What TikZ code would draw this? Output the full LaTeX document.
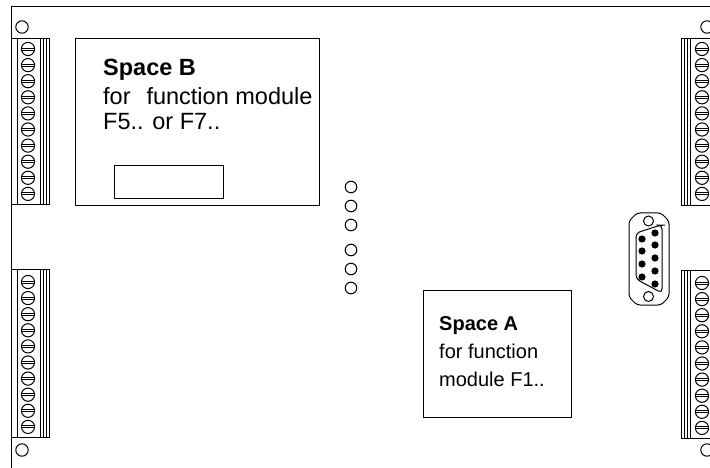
\documentclass[tikz,border=0pt]{standalone}
\usepackage{fontspec}
\setmainfont{Liberation Sans}
\tikzset{
  ln/.style={draw=black,line width=1pt},
  thin ln/.style={draw=black,line width=.8pt},
  hole/.style={ln,fill=white},
  label txt/.style={anchor=base west,inner sep=0pt},
  big txt/.style={label txt,font=\fontsize{23.5}{25}\selectfont},
  small txt/.style={label txt,font=\fontsize{20}{22}\selectfont},
}
\newcommand{\screw}[2]{%
  \draw[ln,fill=white] (#1,#2) circle (6.6);
  \draw[draw=black,line width=.9pt] (#1-6.4,#2-1) -- (#1+6.4,#2-1);
  \draw[draw=black,line width=.9pt] (#1-6.4,#2+1) -- (#1+6.4,#2+1);
}
\begin{document}
\begin{tikzpicture}[x=1pt,y=-1pt]
\useasboundingbox (0,0) rectangle (710,468);
\begin{scope}
\clip (0,0) rectangle (710,468);
% frame
\draw[ln] (710,7) -- (11,7) -- (11,468);
% left blocks
\foreach \t/\b/\o in {39/205/10,269/437/13}{
  \draw[ln] (11,\t) -- (49,\t) -- (49,\b) -- (11,\b);
  \draw[ln] (17,\t) -- (17,\b);
  \draw[thin ln] (40,\t) -- (40,\b);
  \draw[thin ln] (43,\t) -- (43,\b);
  \draw[thin ln] (46,\t) -- (46,\b);
  \foreach \i in {0,...,9}{
    \pgfmathsetmacro{\yy}{\t+\o+\i*16.1}
    \screw{28}{\yy}
  }
}
% right blocks
\foreach \t/\b/\o in {39/206/10,270/438/13}{
  \draw[ln] (710,\t) -- (681,\t) -- (681,\b) -- (710,\b);
  \draw[thin ln] (684,\t) -- (684,\b);
  \draw[thin ln] (687,\t) -- (687,\b);
  \draw[thin ln] (690,\t) -- (690,\b);
  \foreach \i in {0,...,9}{
    \pgfmathsetmacro{\yy}{\t+\o+\i*16.1}
    \screw{702}{\yy}
  }
}
% corner holes
\foreach \x/\y in {22/27,707/27,22/450,707/450}{
  \draw[hole] (\x,\y) circle (6.2);
}
\end{scope}
% LEDs
\foreach \y in {187,206,225,250,269,288}{
  \draw[hole] (351,\y) circle (5.8);
}
% Space B
\draw[ln] (75,39) rectangle (319,206);
\draw[ln] (114,166) rectangle (223,199);
\node[big txt] (bhead) at (103,76) {\textbf{Space B}};
\node[big txt] (bone) at (103,105) {for\hspace{.4em} function module};
\node[big txt] (btwo) at (103,130) {F5.. or F7..};
% Space A
\draw[ln] (423,290) rectangle (571,417);
\node[small txt] (ahead) at (439,330) {\textbf{Space A}};
\node[small txt] (aone) at (439,358) {for function};
\node[small txt] (atwo) at (439,386) {module F1..};
% Sub-D connector
\draw[ln,rounded corners=3pt] (637,213) -- (661,213) -- (669,221) -- (669,297) -- (661,305) -- (637,305) -- (629,297) -- (629,221) -- cycle;
\draw[ln] (648.5,221) circle (5);
\draw[ln] (648.5,296.5) circle (5);
\draw[ln,rounded corners=4pt] (636,233) -- (661,225) -- (662,225) -- (662,293) -- (636,279) -- cycle;
\foreach \y in {239,251,264,277}{\fill (642,\y) circle (3.6);}
\foreach \y in {233,245,258,271,284}{\fill (655,\y) circle (3.6);}
\end{tikzpicture}
\end{document}
